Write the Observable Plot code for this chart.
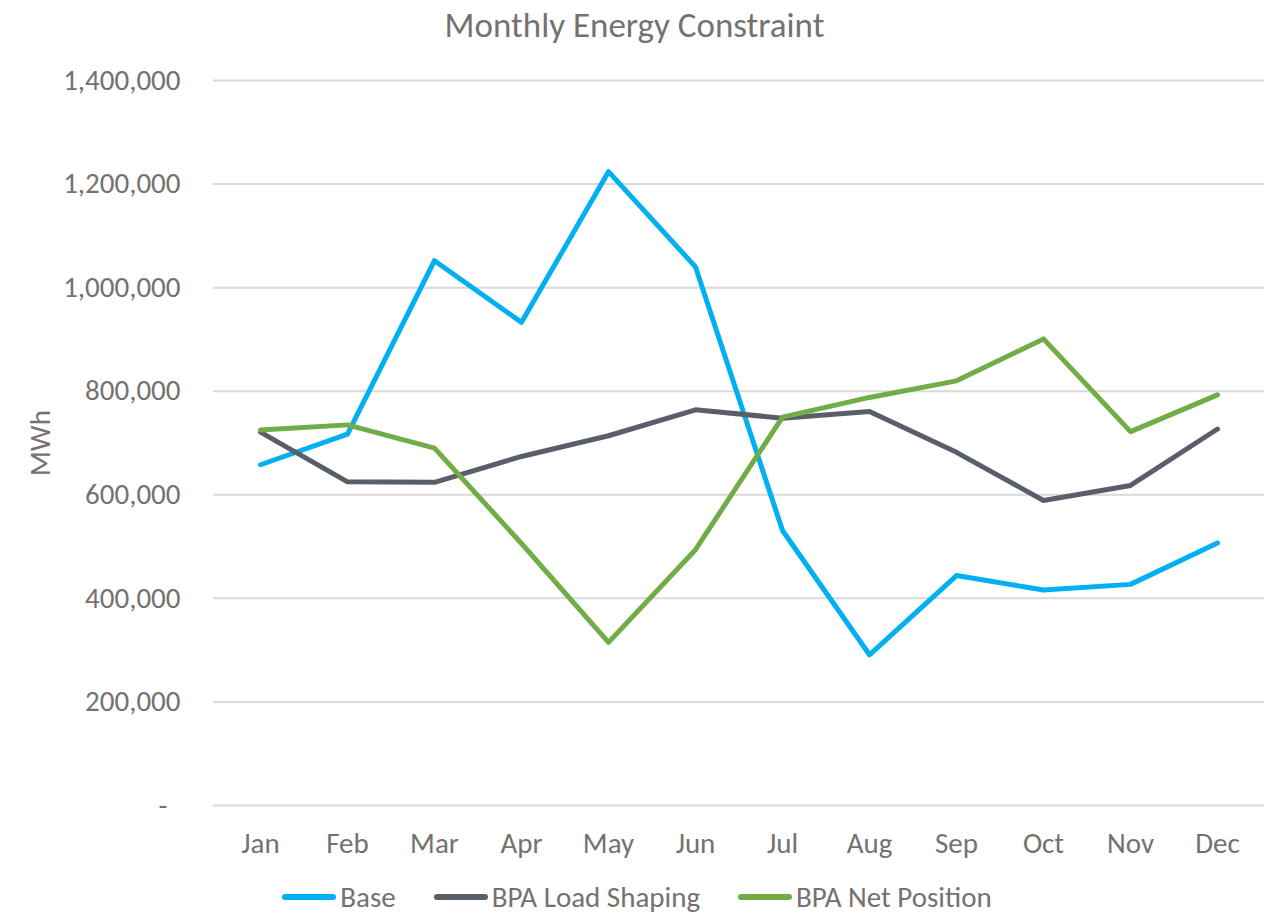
<!DOCTYPE html>
<html>
<head>
<meta charset="utf-8">
<script src="https://cdn.jsdelivr.net/npm/d3@7"></script>
<script src="https://cdn.jsdelivr.net/npm/@observablehq/plot@0.6"></script>
<style>
  html, body { margin: 0; padding: 0; background: #fff; overflow: hidden; }
  body { width: 1269px; height: 915px; font-family: Carlito, Calibri, "Open Sans", sans-serif; color: #767171; }
  #title { height: 50px; line-height: 50px; text-align: center; font-size: 35px; color: #767171; }
  #chart svg { display: block; }
  #legend { display: flex; justify-content: center; align-items: center; gap: 38px; height: 34px; font-size: 29px; line-height: 34px; color: #767171; margin-left: 5px; }
  .item { display: flex; align-items: center; gap: 4px; }
  .sw { width: 54px; height: 6px; border-radius: 3px; }
</style>
</head>
<body>
<div id="title">Monthly Energy Constraint</div>
<div id="chart"></div>
<div id="legend"></div>
<script>
const months = ["Jan","Feb","Mar","Apr","May","Jun","Jul","Aug","Sep","Oct","Nov","Dec"];
const base = [658000, 717000, 1052000, 933000, 1224000, 1040000, 531000, 291000, 444000, 416000, 427000, 507000];
const loadShaping = [721000, 625000, 624000, 674000, 714000, 764000, 748000, 761000, 682000, 589000, 618000, 727000];
const netPosition = [725000, 735000, 690000, 506000, 315000, 494000, 750000, 788000, 820000, 901000, 722000, 793000];
const seriesNames = ["Base", "BPA Load Shaping", "BPA Net Position"];
const seriesColors = ["#00B0F0", "#595F69", "#70AD47"];
const yTicks = [0, 200000, 400000, 600000, 800000, 1000000, 1200000, 1400000];

const seriesValues = [base, loadShaping, netPosition];
const data = [];
seriesNames.forEach((s, i) => months.forEach((m, j) => data.push({series: s, month: m, value: seriesValues[i][j]})));

const fmt = d3.format(",");
const chart = Plot.plot({
  width: 1269,
  height: 830,
  marginLeft: 213,
  marginRight: 5,
  marginTop: 30,
  marginBottom: 75,
  style: {fontFamily: 'Carlito, Calibri, "Open Sans", sans-serif', fontSize: "29px", color: "#767171", background: "white"},
  x: {type: "point", domain: months},
  y: {domain: [0, 1400000]},
  color: {domain: seriesNames, range: seriesColors},
  marks: [
    Plot.ruleY(yTicks, {stroke: "#d9d9d9", strokeWidth: 2}),
    Plot.axisY(yTicks, {tickSize: 0, tickPadding: 33, tickFormat: d => d === 0 ? "-\u00a0\u00a0" : fmt(d), label: "MWh", labelAnchor: "center", labelOffset: 184, labelArrow: "none", fontSize: 29}),
    Plot.axisX({tickSize: 0, tickPadding: 27, label: null, fontSize: 29}),
    Plot.line(data, {x: "month", y: "value", stroke: "series", z: "series", strokeWidth: 5, strokeLinecap: "round", strokeLinejoin: "round"})
  ]
});
document.getElementById("chart").appendChild(chart);

const legend = document.getElementById("legend");
seriesNames.forEach((s, i) => {
  const item = document.createElement("div");
  item.className = "item";
  const sw = document.createElement("div");
  sw.className = "sw";
  sw.style.background = seriesColors[i];
  const t = document.createElement("span");
  t.textContent = s;
  item.appendChild(sw);
  item.appendChild(t);
  legend.appendChild(item);
});
</script>
</body>
</html>
